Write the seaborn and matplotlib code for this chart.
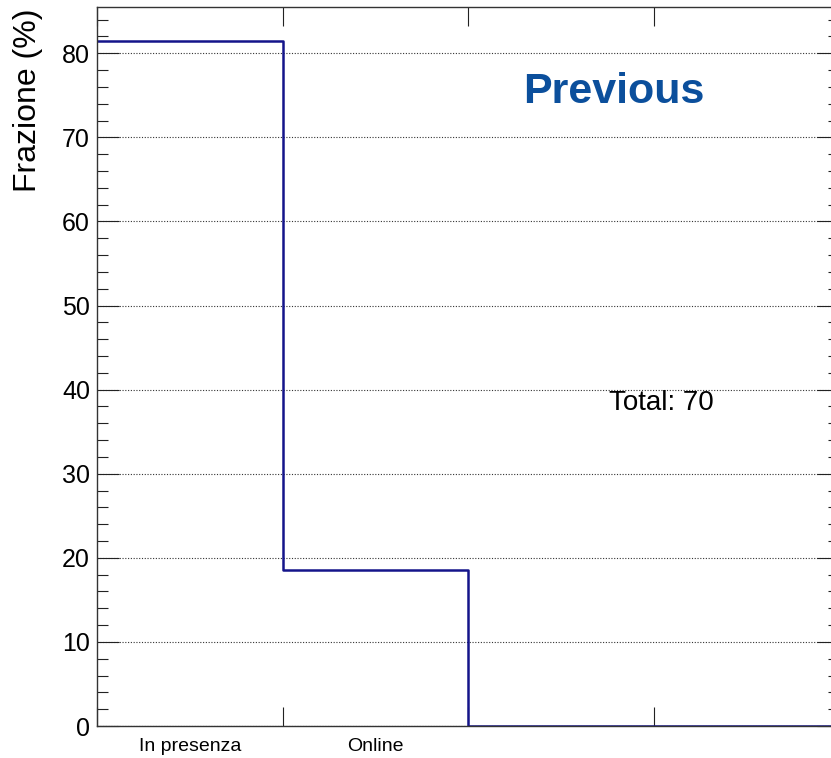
import numpy as np
import pandas as pd
import matplotlib
matplotlib.use("Agg")
import matplotlib.pyplot as plt
from matplotlib.ticker import MultipleLocator
import seaborn as sns

# Histogram content: fraction of answers per category (70 responses in total)
categories = ["In presenza", "Online", "", ""]
fractions = [81.43, 18.57, 0.0, 0.0]
total_count = 70
y_ticks = [0, 10, 20, 30, 40, 50, 60, 70, 80]

sns.set_style("white")
plt.rcParams["font.family"] = ["Liberation Sans", "DejaVu Sans"]
plt.rcParams["text.color"] = "black"
plt.rcParams["xtick.labelcolor"] = "black"
plt.rcParams["ytick.labelcolor"] = "black"

W, H = 831, 758
fig = plt.figure(figsize=(W / 100, H / 100), dpi=100)
# Frame in pixel units: left 97, right 839 (just past the canvas), top 7, bottom 726
ax = fig.add_axes([97 / W, (H - 726) / H, (839 - 97) / W, (726 - 7) / H])

n = len(categories)
edges = np.arange(n + 1)
df = pd.DataFrame({"pos": np.arange(n) + 0.5, "frac": fractions})

sns.histplot(data=df, x="pos", weights="frac", binwidth=1, binrange=(0, n),
             element="step", fill=False, color="#14148a", linewidth=1.8, ax=ax)

ax.set_xlim(0, n)
ax.set_ylim(0, max(fractions) * 1.05)

# Bin-edge ticks on x, category names centred in each bin
ax.set_xticks(edges)
ax.set_xticklabels([""] * len(edges))
ax.set_xticks(np.arange(n) + 0.5, minor=True)
ax.set_xticklabels(categories, minor=True, fontsize=14)
ax.tick_params(axis="x", which="major", direction="in", length=14, width=0.8,
               top=True, bottom=True, color="#222222")
ax.tick_params(axis="x", which="minor", length=0, pad=8.5, labelcolor="black")

ax.set_yticks(y_ticks)
ax.yaxis.set_minor_locator(MultipleLocator(2))
ax.tick_params(axis="y", which="major", direction="in", length=16, width=0.8,
               left=True, right=True, labelsize=18, pad=5, color="#222222",
               labelcolor="black")
ax.tick_params(axis="y", which="minor", direction="in", length=8, width=0.8,
               left=True, right=True, color="#222222")

ax.yaxis.grid(True, which="major", linestyle=(0, (1, 1.5)), color="#333333",
              linewidth=0.8)
ax.xaxis.grid(False)
ax.set_axisbelow(True)

for sp in ax.spines.values():
    sp.set_visible(True)
    sp.set_color("#333333")
    sp.set_linewidth(1.0)

ax.set_xlabel("")
ax.set_ylabel("")
fig.text(28 / W, 1 - 8 / H, "Frazione (%)", rotation=90, ha="center", va="top",
         fontsize=23, color="black")

fig.text(523 / W, 1 - 103 / H, "Previous", ha="left", va="baseline",
         fontsize=31, fontweight="bold", color="#0b4f9c")
fig.text(609 / W, 1 - 410 / H, f"Total: {total_count}", ha="left",
         va="baseline", fontsize=20, color="black")

fig.savefig("out.png", dpi=100)
